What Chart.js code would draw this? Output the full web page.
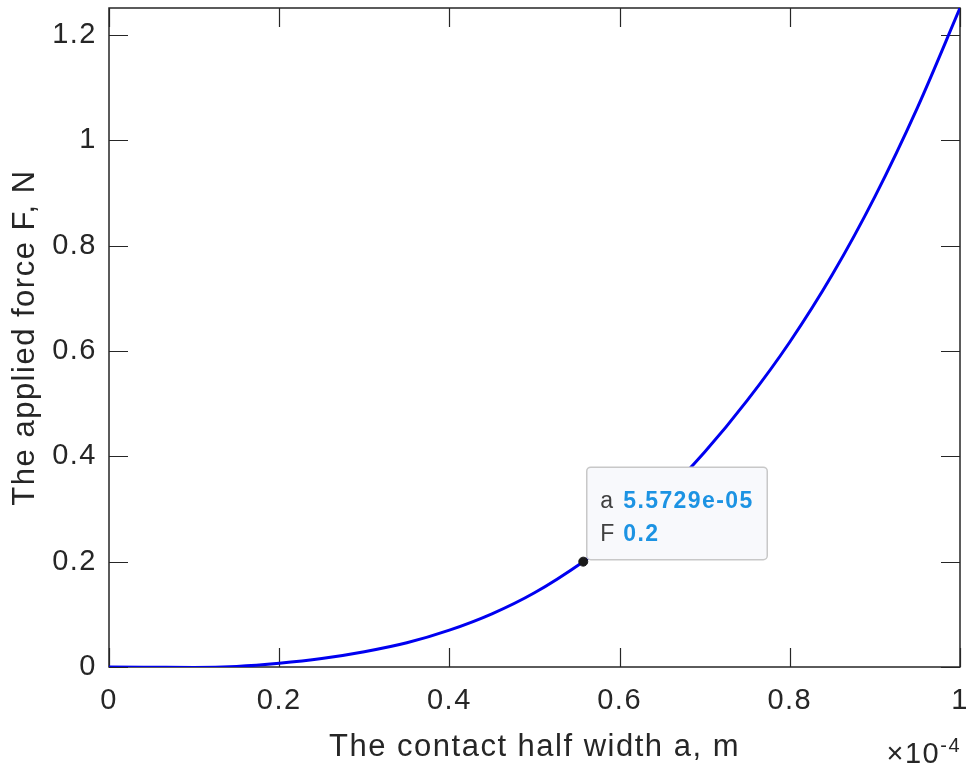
<!DOCTYPE html>
<html>
<head>
<meta charset="utf-8">
<script src="https://cdn.jsdelivr.net/npm/chart.js@4.4.1/dist/chart.umd.min.js"></script>
<style>
  body { margin: 0; background: #fff; }
  #wrap { width: 969px; height: 772px; }
</style>
</head>
<body>
<div id="wrap"><canvas id="forceChart" width="969" height="772"></canvas></div>
<script>
// contact half width a (in units of 1e-4 m) and applied force F (N)
const halfWidth = [0, 0.05, 0.1, 0.15, 0.2, 0.25, 0.3, 0.35, 0.4, 0.45, 0.5, 0.55729,
                   0.6, 0.65, 0.7, 0.75, 0.8, 0.85, 0.9, 0.95, 1.0];
const force = [0, -0.0005, -0.001, 0.001, 0.007, 0.016, 0.029, 0.046, 0.070, 0.101, 0.141, 0.2,
               0.252, 0.323, 0.408, 0.506, 0.617, 0.745, 0.893, 1.062, 1.251];

const xTicks = [0, 0.2, 0.4, 0.6, 0.8, 1];
const yTicks = [0, 0.2, 0.4, 0.6, 0.8, 1, 1.2];

// data tip
const tipA = 5.5729e-05;
const tipF = 0.2;

const FONT = '"Liberation Sans", Arial, Helvetica, sans-serif';
const AXIS_COLOR = '#262626';
const TICK_LEN = 19;

Chart.defaults.font.family = FONT;

function matlabExp(v) {
    // 5.5729e-5 -> 5.5729e-05
    return v.toExponential(4).replace(/e([+-])(\d)$/, 'e$10$2');
}

function drawTip(chart) {
    const {ctx, scales: {x, y}} = chart;
    const px = x.getPixelForValue(tipA / 1e-4);
    const py = y.getPixelForValue(tipF);
    ctx.save();
    ctx.letterSpacing = '0px';
    ctx.beginPath();
    ctx.roundRect(px + 3.5, py - 94.5, 180.5, 92.5, 4);
    ctx.fillStyle = '#f8f9fc';
    ctx.fill();
    ctx.strokeStyle = '#c8c8c8';
    ctx.lineWidth = 1.5;
    ctx.stroke();

    ctx.letterSpacing = '1.4px';
    ctx.textBaseline = 'alphabetic';
    ctx.textAlign = 'left';
    ctx.font = '23px ' + FONT;
    ctx.fillStyle = '#404040';
    ctx.fillText('a', px + 17, py - 54);
    ctx.fillText('F', px + 17, py - 21);
    ctx.font = 'bold 23px ' + FONT;
    ctx.fillStyle = '#1c93e3';
    ctx.fillText(matlabExp(tipA), px + 40, py - 54);
    ctx.fillText(String(tipF), px + 40, py - 21);
    ctx.restore();
}

const axesBox = {
    id: 'axesBox',
    beforeDraw(chart) {
        chart.ctx.letterSpacing = '1.5px';
    },
    beforeDatasetsDraw(chart) {
        const {ctx, chartArea: a, scales: {x, y}} = chart;
        ctx.save();
        ctx.strokeStyle = AXIS_COLOR;
        ctx.lineWidth = 1.5;
        ctx.strokeRect(a.left, a.top, a.width, a.height);
        ctx.beginPath();
        x.ticks.forEach(t => {
            const px = Math.round(x.getPixelForValue(t.value)) + 0.5;
            ctx.moveTo(px, a.bottom); ctx.lineTo(px, a.bottom - TICK_LEN);
            ctx.moveTo(px, a.top); ctx.lineTo(px, a.top + TICK_LEN);
        });
        y.ticks.forEach(t => {
            const py = Math.round(y.getPixelForValue(t.value)) + 0.5;
            ctx.moveTo(a.left, py); ctx.lineTo(a.left + TICK_LEN, py);
            ctx.moveTo(a.right, py); ctx.lineTo(a.right - TICK_LEN, py);
        });
        ctx.lineWidth = 1.2;
        ctx.stroke();
        ctx.restore();
    },
    afterDatasetDraw(chart, args) {
        // tip box goes over the curve but under the marker
        if (args.index === 1) drawTip(chart);
    },
    afterDraw(chart) {
        const {ctx, chartArea: a} = chart;
        ctx.save();
        ctx.fillStyle = AXIS_COLOR;
        ctx.textAlign = 'right';
        ctx.textBaseline = 'alphabetic';
        ctx.font = '20px ' + FONT;
        ctx.fillText('-4', a.right + 1, a.bottom + 85);
        const w = ctx.measureText('-4').width;
        ctx.font = '29px ' + FONT;
        ctx.fillText('\u00d710', a.right + 1 - w, a.bottom + 96);
        ctx.restore();
    }
};

new Chart(document.getElementById('forceChart'), {
    type: 'line',
    data: {
        datasets: [
            {
                label: 'tip',
                data: [{x: tipA / 1e-4, y: tipF}],
                showLine: false,
                pointRadius: 4.5,
                pointBackgroundColor: '#1a1a1a',
                pointBorderColor: '#1a1a1a',
                pointBorderWidth: 1
            },
            {
                label: 'F',
                data: halfWidth.map((a, i) => ({x: a, y: force[i]})),
                borderColor: '#0000f0',
                borderWidth: 3,
                pointRadius: 0,
                cubicInterpolationMode: 'monotone',
                fill: false
            }
        ]
    },
    options: {
        responsive: false,
        animation: false,
        layout: {padding: {top: 8, right: 9, bottom: 0, left: 0}},
        plugins: {legend: {display: false}, tooltip: {enabled: false}},
        events: [],
        scales: {
            x: {
                type: 'linear',
                min: 0,
                max: 1,
                grid: {display: false, drawTicks: false},
                border: {display: false},
                afterBuildTicks: s => { s.ticks = xTicks.map(v => ({value: v})); },
                afterFit: s => { s.height = 105; s.paddingLeft = 0; s.paddingRight = 0; },
                ticks: {
                    color: AXIS_COLOR,
                    font: {size: 29},
                    padding: 17,
                    maxRotation: 0,
                    autoSkip: false,
                    callback: v => String(v)
                },
                title: {
                    display: true,
                    text: 'The contact half width a, m',
                    color: AXIS_COLOR,
                    font: {size: 31},
                    padding: 6
                }
            },
            y: {
                type: 'linear',
                min: 0,
                max: 1.251,
                grid: {display: false, drawTicks: false},
                border: {display: false},
                afterBuildTicks: s => { s.ticks = yTicks.map(v => ({value: v})); },
                afterFit: s => { s.width = 109; s.paddingTop = 0; s.paddingBottom = 0; },
                ticks: {
                    color: AXIS_COLOR,
                    font: {size: 29},
                    padding: 12,
                    autoSkip: false,
                    callback: v => String(v)
                },
                title: {
                    display: true,
                    text: 'The applied force F, N',
                    color: AXIS_COLOR,
                    font: {size: 31},
                    padding: 7
                }
            }
        }
    },
    plugins: [axesBox]
});
</script>
</body>
</html>
